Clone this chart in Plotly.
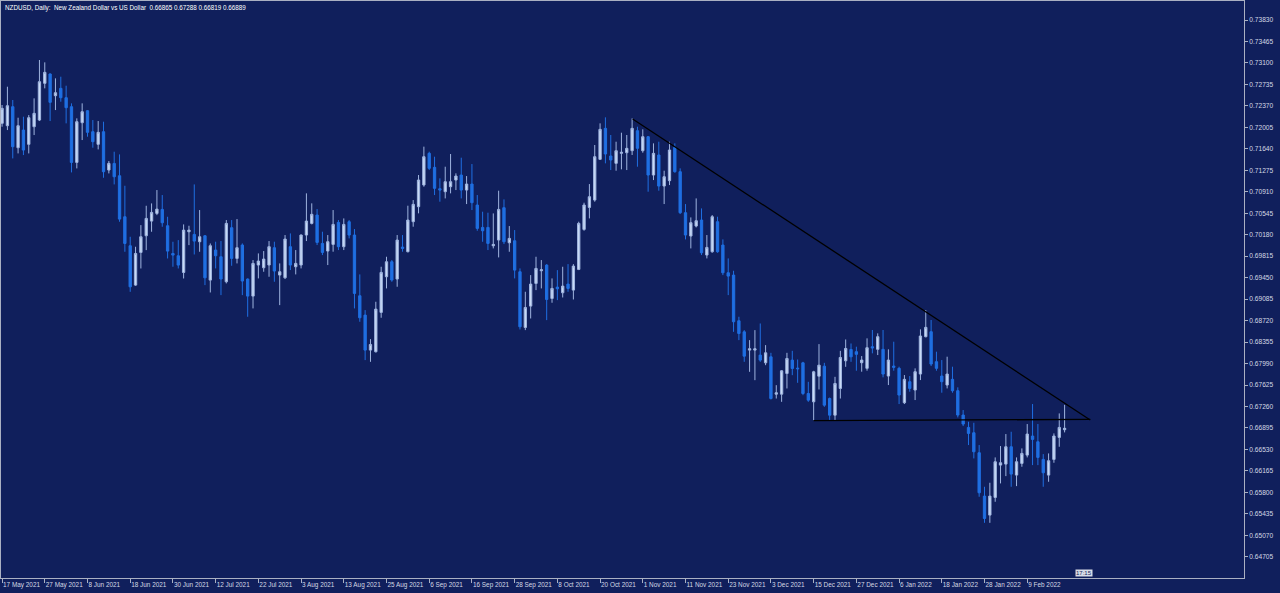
import plotly.graph_objects as go
import pandas as pd

# ---------------- data ----------------
symbol_title = "NZDUSD, Daily:\u00a0\u00a0New Zealand Dollar vs US Dollar\u00a0\u00a00.66865 0.67288 0.66819 0.66889"

dates = pd.bdate_range("2021-05-17", "2022-02-18").strftime("%Y-%m-%d").tolist()

opens = [
    .72073, .72033, .72356, .71659, .71959, .71716, .72016, .72129, .72753, .72912,
    .72543, .72668, .72509, .72356, .71409, .72084, .72288, .71931, .71716, .71931,
    .71279, .71392, .71182, .70485, .69992, .69323, .69878, .70162, .70411, .70542,
    .70610, .70332, .69861, .69822, .69538, .70230, .70185, .70060, .70162, .69408,
    .69919, .69805, .69380, .70299, .69777, .70004, .69426, .69136, .69664, .69618,
    .69664, .69959, .69494, .69448, .69976, .69635, .69664, .70174, .70372, .70514,
    .70032, .69902, .70015, .70389, .69976, .70401, .70174, .69142, .68813, .68218,
    .68190, .68859, .69465, .69720, .69426, .69970, .69891, .70401, .70656, .71025,
    .71563, .71325, .70962, .70911, .70996, .71109, .71194, .70939, .71041, .70684,
    .70304, .70304, .69992, .70089, .70639, .70043, .70077, .69550, .68603, .68966,
    .69352, .69567, .69663, .69096, .69289, .69193, .69340, .69238, .69590, .70270,
    .70644, .70769, .71461, .71988, .71518, .71393, .71563, .71574, .71608, .71948,
    .71608, .71846, .71194, .71535, .71007, .71098, .71665, .71251, .70554, .70157,
    .70327, .70429, .69834, .69890, .70401, .70004, .69533, .69493, .68717, .68529,
    .68218, .68218, .68133, .68002, .68104, .67469, .67469, .67821, .68048, .67912,
    .68002, .67480, .67339, .67775, .67945, .67395, .67112, .67566, .68036, .68229,
    .68191, .68004, .67908, .68276, .68231, .68231, .67777, .67947, .67908, .67324,
    .67681, .67539, .67811, .68446, .68531, .68021, .67777, .67624, .67721, .67528,
    .67114, .66904, .66813, .66473, .65736, .65413, .65713, .66263, .66280, .66575,
    .66093, .66292, .66433, .66757, .66660, .66360, .66093, .66360, .66734, .66865,
]
highs = [
    .72385, .72696, .72470, .72169, .72186, .72214, .72498, .73150, .73110, .72923,
    .72838, .72866, .72713, .72413, .72158, .72413, .72299, .72129, .72112, .72101,
    .71432, .71591, .71545, .71012, .70145, .69975, .70343, .70672, .70712, .70939,
    .70854, .70485, .70060, .70088, .70355, .70332, .71035, .70599, .70173, .70031,
    .70061, .70072, .70429, .70429, .70446, .70032, .69437, .69749, .69862, .69902,
    .70072, .70061, .69692, .70174, .70202, .69919, .70185, .70883, .70713, .70616,
    .70231, .70174, .70599, .70429, .70457, .70429, .70276, .69505, .68898, .68405,
    .69040, .69635, .69805, .69749, .70174, .70174, .70673, .70769, .71195, .71677,
    .71591, .71506, .71138, .71336, .71552, .71223, .71489, .71177, .71381, .70854,
    .70571, .70554, .70542, .70928, .70780, .70327, .70259, .69607, .69210, .69493,
    .69805, .69749, .69680, .69437, .69578, .69635, .69680, .69680, .70401, .70724,
    .71041, .71705, .72073, .72175, .71875, .71761, .71914, .71875, .72158, .72016,
    .71971, .71858, .71733, .71761, .71268, .71761, .71733, .71308, .70701, .70474,
    .70797, .70627, .70174, .70514, .70486, .70100, .69777, .69567, .68785, .68558,
    .68388, .68558, .68671, .68303, .68172, .67622, .67877, .68172, .68206, .68059,
    .68019, .67679, .67866, .68320, .68002, .67412, .67764, .68206, .68399, .68331,
    .68276, .68117, .68418, .68560, .68503, .68560, .68231, .68361, .67936, .67794,
    .67777, .67908, .68571, .68900, .68730, .68191, .68049, .68106, .67936, .67585,
    .67199, .67000, .66983, .66604, .65895, .65963, .66394, .66587, .66791, .66830,
    .66394, .66547, .66961, .67301, .66961, .66450, .66462, .66802, .67142, .67288,
]
lows = [
    .72016, .71959, .71477, .71562, .71534, .71562, .71874, .72112, .72668, .72112,
    .72299, .72441, .72073, .71239, .71307, .71789, .71846, .71659, .71630, .71148,
    .71222, .71035, .70400, .69890, .69209, .69311, .69606, .69918, .70230, .70513,
    .70315, .69776, .69635, .69606, .69436, .70003, .69844, .69890, .69323, .69198,
    .69607, .69153, .69352, .69652, .69692, .69153, .68785, .68927, .69437, .69550,
    .69465, .69380, .68983, .69426, .69579, .69505, .69607, .70072, .70355, .70004,
    .69834, .69664, .69891, .69919, .69919, .70117, .68927, .68700, .68048, .68019,
    .68178, .68768, .69267, .69380, .69295, .69891, .69879, .70316, .70543, .70996,
    .71279, .70854, .70741, .70797, .70883, .70939, .70797, .70701, .70599, .70247,
    .70060, .69919, .69947, .69794, .70021, .69890, .69437, .68569, .68558, .68756,
    .69238, .69267, .68728, .69023, .69068, .69113, .69210, .69079, .69578, .70247,
    .70457, .70741, .71450, .71393, .71279, .71268, .71291, .71279, .71535, .71336,
    .71574, .70911, .71109, .70928, .70701, .71024, .71234, .70531, .70100, .69947,
    .70304, .69834, .69777, .69873, .69873, .69493, .69153, .68529, .68388, .68019,
    .67849, .67707, .68019, .67962, .67378, .67395, .67339, .67566, .67792, .67662,
    .67452, .67339, .67027, .67549, .67254, .67027, .67027, .67395, .67934, .68019,
    .67868, .67851, .67868, .68163, .68134, .67755, .67624, .67868, .67301, .67301,
    .67511, .67369, .67709, .68435, .67947, .67868, .67494, .67567, .67494, .67074,
    .66927, .66604, .66377, .65725, .65282, .65282, .65640, .65952, .66076, .65895,
    .65906, .66235, .66394, .66263, .66263, .65895, .65980, .66303, .66575, .66819,
]
closes = [
    .72328, .72373, .71676, .72033, .71619, .72169, .72243, .72781, .72940, .72430,
    .72594, .72509, .72339, .71409, .72101, .72271, .71920, .71761, .71920, .71251,
    .71392, .71165, .70445, .70031, .69294, .69861, .70145, .70457, .70559, .70615,
    .70383, .69901, .69833, .69663, .70258, .70258, .70071, .70145, .69447, .69992,
    .69822, .69426, .70372, .69777, .69959, .69392, .69136, .69692, .69732, .69766,
    .69976, .69562, .69550, .70106, .69664, .69692, .70174, .70412, .70526, .70049,
    .69879, .70061, .70355, .69976, .70355, .70174, .69182, .68768, .68218, .68314,
    .68915, .69539, .69720, .69409, .70089, .69947, .70429, .70696, .71110, .71506,
    .71308, .70968, .70939, .71081, .71081, .71177, .70939, .71041, .70724, .70287,
    .70247, .70032, .70015, .70610, .70060, .70117, .69578, .68615, .68943, .69340,
    .69607, .69584, .69079, .69267, .69261, .69306, .69267, .69646, .70372, .70684,
    .70826, .71506, .71971, .71552, .71450, .71608, .71580, .71648, .71988, .71648,
    .71846, .71194, .71563, .71007, .71166, .71620, .71251, .70554, .70174, .70384,
    .70418, .69873, .69964, .70486, .69890, .69533, .69476, .68700, .68501, .68115,
    .68240, .68240, .68048, .68172, .67395, .67492, .67866, .68076, .67906, .67901,
    .67480, .67367, .67849, .67962, .67282, .67112, .67651, .68093, .68246, .68104,
    .68146, .68049, .68259, .68254, .68446, .67811, .68049, .67925, .67454, .67721,
    .67567, .67851, .68458, .68605, .67981, .67908, .67681, .67811, .67528, .67114,
    .66961, .66802, .66490, .65793, .65356, .65736, .66320, .66303, .66575, .66110,
    .66320, .66462, .66791, .66700, .66394, .66133, .66337, .66757, .66904, .66889,
]

x_tick_labels = [
    "17 May 2021", "27 May 2021", "8 Jun 2021", "18 Jun 2021", "30 Jun 2021",
    "12 Jul 2021", "22 Jul 2021", "3 Aug 2021", "13 Aug 2021", "25 Aug 2021",
    "6 Sep 2021", "16 Sep 2021", "28 Sep 2021", "8 Oct 2021", "20 Oct 2021",
    "1 Nov 2021", "11 Nov 2021", "23 Nov 2021", "3 Dec 2021", "15 Dec 2021",
    "27 Dec 2021", "6 Jan 2022", "18 Jan 2022", "28 Jan 2022", "9 Feb 2022",
]
x_tick_step = 8

y_ticks = [
    0.64705, 0.65070, 0.65435, 0.65800, 0.66165, 0.66530, 0.66895, 0.67260,
    0.67625, 0.67990, 0.68355, 0.68720, 0.69085, 0.69450, 0.69815, 0.70180,
    0.70545, 0.70910, 0.71275, 0.71640, 0.72005, 0.72370, 0.72735, 0.73100,
    0.73465, 0.73830,
]

# user-drawn trend lines (bar index, price)
resistance_x = [118.1, 203.8]
resistance_y = [0.72147, 0.67030]
support_x = [152.0, 203.8]
support_y = [0.67020, 0.67040]

# ---------------- styling ----------------
BG = "#101f5c"
BULL_FILL = "#c9dbf6"
BULL_LINE = "#9fb4df"
BEAR_FILL = "#1f6fe2"
BEAR_LINE = "#1f6fe2"
AXIS = "#aab0c2"
TXT = "#d5d9e4"
FONT = "Liberation Sans, Arial, sans-serif"

fig = go.Figure()
fig.add_trace(go.Candlestick(
    x=dates, open=opens, high=highs, low=lows, close=closes,
    increasing=dict(line=dict(color=BULL_LINE, width=1), fillcolor=BULL_FILL),
    decreasing=dict(line=dict(color=BEAR_LINE, width=1), fillcolor=BEAR_FILL),
    whiskerwidth=0,
    showlegend=False,
    hoverinfo="skip",
))

for xs, ys in [(resistance_x, resistance_y), (support_x, support_y)]:
    fig.add_shape(type="line", xref="x", yref="y",
                  x0=xs[0], y0=ys[0], x1=xs[1], y1=ys[1],
                  line=dict(color="#000000", width=1.3))

tick_vals = [dates[i] for i in range(0, len(dates), x_tick_step)][:len(x_tick_labels)]

fig.update_layout(
    width=1280, height=593,
    margin=dict(l=1, r=36, t=1, b=15, autoexpand=False),
    paper_bgcolor=BG, plot_bgcolor=BG,
    boxgap=0.38,
    font=dict(family=FONT, color=TXT, size=7),
    xaxis=dict(
        type="category",
        range=[-0.2, 232.6],
        rangeslider=dict(visible=False),
        showgrid=False, zeroline=False,
        tickmode="array", tickvals=tick_vals, ticktext=x_tick_labels,
        tickangle=0, automargin=False,
        ticks="outside", ticklen=4, tickcolor=AXIS, tickwidth=1,
        ticklabelposition="outside right",
        tickfont=dict(size=6.4, color=TXT, family=FONT),
        showline=True, linecolor=AXIS, linewidth=1, mirror=True,
        fixedrange=True,
    ),
    yaxis=dict(
        side="right",
        range=[0.64344, 0.74153],
        showgrid=False, zeroline=False,
        tickmode="array", tickvals=y_ticks,
        ticktext=[f"{v:.5f}" for v in y_ticks],
        automargin=False,
        ticks="outside", ticklen=3, tickcolor=AXIS, tickwidth=1,
        tickfont=dict(size=6.6, color=TXT, family=FONT),
        showline=True, linecolor=AXIS, linewidth=1, mirror=True,
        fixedrange=True,
    ),
    annotations=[
        dict(text=symbol_title, xref="paper", yref="paper", x=0, y=1,
             xanchor="left", yanchor="top", xshift=2, yshift=-1,
             showarrow=False, font=dict(size=6.3, color="#ffffff", family=FONT)),
        dict(text="17:15", xref="x", yref="paper", x=202.7, y=0,
             xanchor="center", yanchor="bottom", yshift=1,
             showarrow=False, bgcolor="#d8dce6", borderpad=0,
             font=dict(size=6, color="#101f5c", family=FONT)),
    ],
)

fig.write_html(
    "out.html",
    config={"displayModeBar": False},
    post_script="document.body.style.margin='0';document.body.style.overflow='hidden';document.body.style.background='#101f5c';",
)
